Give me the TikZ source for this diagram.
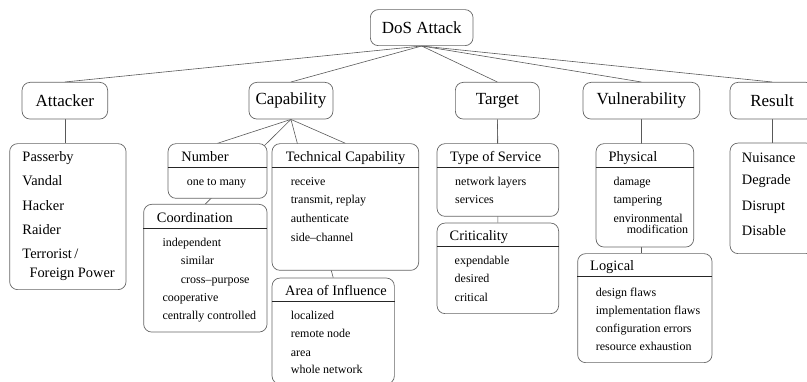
\documentclass[tikz,border=0pt]{standalone}
\usepackage{fontspec}
\setmainfont{Liberation Serif}
\usetikzlibrary{backgrounds}
\begin{document}
\begin{tikzpicture}[x=1pt,y=-1pt,
  box/.style={draw=black!60, line width=0.7pt, rounded corners=8pt, fill=white, inner sep=0pt, anchor=north west},
  topbox/.style={box, font=\fontsize{17}{20}\selectfont},
  link/.style={draw=black!65, line width=0.6pt},
  ttl/.style={anchor=west, inner sep=0pt, font=\fontsize{14.4}{17}\selectfont, text height=12pt, text depth=3pt},
  itm/.style={anchor=west, inner sep=0pt, font=\fontsize{12}{14}\selectfont, text height=10pt, text depth=2.5pt},
  divider/.style={draw=black!85, line width=0.7pt}]
\useasboundingbox (0,0) rectangle (807,382);

% top levels
\node[topbox, minimum width=102.7pt, minimum height=36pt] (dos) at (370,9.3) {DoS Attack};
\node[topbox, minimum width=85.6pt, minimum height=36.7pt] (att) at (21.7,82) {Attacker};
\node[topbox, minimum width=84pt, minimum height=36.7pt] (cap) at (248.6,82) {Capability};
\node[topbox, minimum width=84pt, minimum height=36.7pt] (tgt) at (455,82) {Target};
\node[topbox, minimum width=116.6pt, minimum height=36.7pt] (vul) at (582.7,82) {Vulnerability};
\node[topbox, minimum width=84pt, minimum height=36.7pt] (res) at (729.7,82) {Result};

% lower boxes
\node[box, minimum width=116.4pt, minimum height=146pt] (attl) at (9.3,143.3) {};
\node[box, minimum width=99pt, minimum height=54.7pt] (num) at (167.7,143.3) {};
\node[box, minimum width=123.4pt, minimum height=127.7pt] (coord) at (143.3,204) {};
\node[box, minimum width=146.6pt, minimum height=126.7pt] (tech) at (271.7,143.3) {};
\node[box, minimum width=122.3pt, minimum height=106pt] (area) at (271.7,277.7) {};
\node[box, minimum width=121.6pt, minimum height=72.7pt] (tos) at (436.7,143.3) {};
\node[box, minimum width=121.6pt, minimum height=90.6pt] (crit) at (436.7,222.7) {};
\node[box, minimum width=97.6pt, minimum height=103.4pt] (phys) at (595.7,143.3) {};
\node[box, minimum width=134.4pt, minimum height=109pt] (logi) at (577.3,253.3) {};
\node[box, minimum width=84pt, minimum height=110.6pt] (resl) at (729.7,142.7) {};

% dividers
\draw[divider] (num.west |- 0,167.7) -- (num.east |- 0,167.7);
\draw[divider] (coord.west |- 0,228.3) -- (coord.east |- 0,228.3);
\draw[divider] (tech.west |- 0,167.7) -- (tech.east |- 0,167.7);
\draw[divider] (area.west |- 0,301.7) -- (area.east |- 0,301.7);
\draw[divider] (tos.west |- 0,167.7) -- (tos.east |- 0,167.7);
\draw[divider] (crit.west |- 0,246) -- (crit.east |- 0,246);
\draw[divider] (phys.west |- 0,167.7) -- (phys.east |- 0,167.7);
\draw[divider] (logi.west |- 0,276.7) -- (logi.east |- 0,276.7);

% Attacker list
\node[ttl] (a1) at (22.3,156.7) {Passerby};
\node[ttl] (a2) at (22.3,181) {Vandal};
\node[ttl] (a3) at (22.3,206) {Hacker};
\node[ttl] (a4) at (22.3,230) {Raider};
\node[ttl] (a5) at (22.3,254) {Terrorist\,/};
\node[ttl] (a6) at (29.3,272.7) {Foreign Power};

% Number
\node[ttl] (nt) at (181.2,156.7) {Number};
\node[itm] (n1) at (186.7,181.7) {one to many};

% Coordination
\node[ttl] (ct) at (156.7,218) {Coordination};
\node[itm] (c1) at (162.3,242.7) {independent};
\node[itm] (c2) at (180.7,261) {similar};
\node[itm] (c3) at (180.7,279.3) {cross--purpose};
\node[itm] (c4) at (162.3,297.7) {cooperative};
\node[itm] (c5) at (162.3,315.7) {centrally controlled};

% Technical Capability
\node[ttl] (tt) at (285.7,156.7) {Technical Capability};
\node[itm] (t1) at (290.7,181.7) {receive};
\node[itm] (t2) at (290.7,200) {transmit, replay};
\node[itm] (t3) at (290.7,219) {authenticate};
\node[itm] (t4) at (290.7,237.3) {side--channel};

% Area of Influence
\node[ttl] (art) at (285,291) {Area of Influence};
\node[itm] (ar1) at (290.7,316) {localized};
\node[itm] (ar2) at (290.7,334) {remote node};
\node[itm] (ar3) at (290.7,352.7) {area};
\node[itm] (ar4) at (290.7,370) {whole network};

% Type of Service
\node[ttl] (st) at (450,156.7) {Type of Service};
\node[itm] (s1) at (455,181.7) {network layers};
\node[itm] (s2) at (455,200) {services};

% Criticality
\node[ttl] (crt) at (449.5,236) {Criticality};
\node[itm] (cr1) at (454.5,261) {expendable};
\node[itm] (cr2) at (454.5,279) {desired};
\node[itm] (cr3) at (454.5,297.7) {critical};

% Physical
\node[ttl] (pt) at (608.3,156.7) {Physical};
\node[itm] (p1) at (613.3,181.7) {damage};
\node[itm] (p2) at (613.3,200) {tampering};
\node[itm] (p3) at (613.3,218.3) {environmental};
\node[itm] (p4) at (626.7,230) {modification};

% Logical
\node[ttl] (lt) at (590,266) {Logical};
\node[itm] (l1) at (595.7,292.3) {design flaws};
\node[itm] (l2) at (595.7,311) {implementation flaws};
\node[itm] (l3) at (595.7,329) {configuration errors};
\node[itm] (l4) at (595.7,346.7) {resource exhaustion};

% Result list
\node[ttl] (r1) at (741.7,157.7) {Nuisance};
\node[ttl] (r2) at (741.7,180) {Degrade};
\node[ttl] (r3) at (741.7,205.7) {Disrupt};
\node[ttl] (r4) at (741.7,231) {Disable};

% connectors
\begin{scope}[on background layer]
\draw[link] (dos.south) -- (att.north);
\draw[link] (dos.south) -- (cap.north);
\draw[link] (dos.south) -- (tgt.north);
\draw[link] (dos.south) -- (vul.north);
\draw[link] (dos.south) -- (res.north);
\draw[link] (att.south) -- (att.south |- attl.north);
\draw[link] (cap.south) -- (num.north);
\draw[link] (cap.south) -- (coord.north);
\draw[link] (cap.south) -- (tech.north);
\draw[link] (cap.south) -- (area.north);
\draw[link] (tgt.south) -- (tos.north);
\draw[link] (tgt.south) -- (crit.north);
\draw[link] (vul.south) -- (vul.south |- phys.north);
\draw[link] (vul.south) -- (vul.south |- logi.north);
\draw[link] (res.south) -- (resl.north);
\end{scope}
\end{tikzpicture}
\end{document}
